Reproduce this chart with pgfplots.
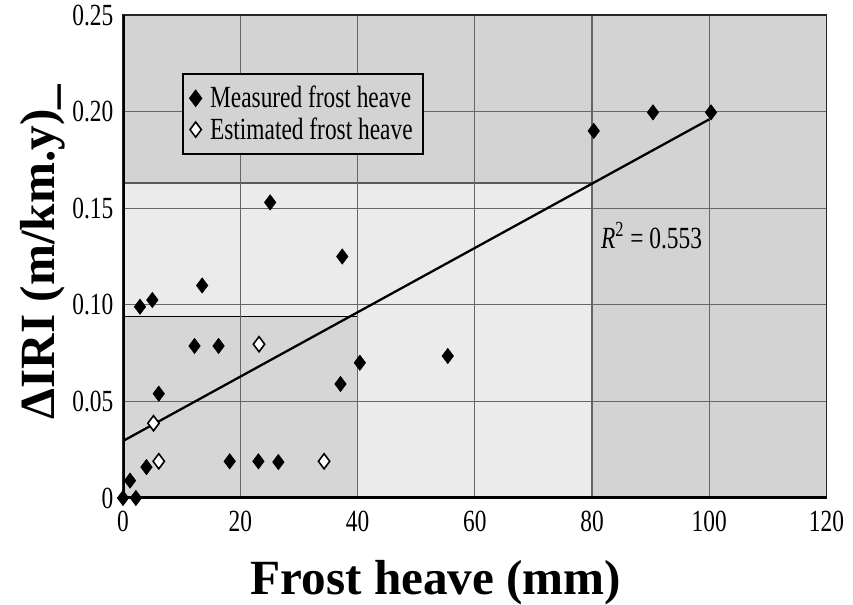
\documentclass[border=0pt]{standalone}
\usepackage{fontspec}
\setmainfont{Liberation Serif}
\newfontfamily\tickfont[FakeStretch=0.76]{Liberation Serif}
\usepackage{pgfplots}
\pgfplotsset{compat=1.18}

\definecolor{bgdark}{RGB}{211,211,211}
\definecolor{bglight}{RGB}{235,235,235}
\definecolor{bgbox}{RGB}{214,214,214}

\newcommand{\smallfont}{\tickfont\fontsize{17.5}{20}\selectfont}

\pgfplotstableread{
x y
0 0
2.2 0
1.2 0.009
4.0 0.016
6.1 0.054
2.9 0.099
5.0 0.1025
13.5 0.110
12.2 0.0787
16.3 0.0787
18.2 0.019
23.1 0.019
26.5 0.0186
25.1 0.153
37.1 0.059
37.4 0.125
40.4 0.070
55.4 0.0735
80.3 0.190
90.4 0.1996
100.3 0.1996
}\measured

\pgfplotstableread{
x y
5.2 0.0387
6.1 0.019
23.2 0.0796
34.3 0.019
}\estimated

\begin{document}
\begin{tikzpicture}
\begin{axis}[
    set layers,
    at={(2.46cm,2.12cm)}, anchor=south west,
    scale only axis, width=14.07cm, height=9.66cm,
    xmin=0, xmax=120, ymin=0, ymax=0.25,
    xtick={0,20,40,60,80,100,120},
    xticklabels={0,20,40,60,80,100,120},
    ytick={0,0.05,0.10,0.15,0.20,0.25},
    yticklabels={0,0.05,0.10,0.15,0.20,0.25},
    ticklabel style={font=\smallfont},
    xticklabel style={yshift=-4pt},
    yticklabel style={xshift=-2pt},
    major tick length=0pt,
    grid=major,
    major grid style={draw=black!60, line width=0.6pt},
    axis line style={draw=black!85, line width=0.9pt},
    axis background/.style={fill=bgdark},
    legend style={at={(0.084,0.880)}, anchor=north west,
        fill=bgdark, draw=black, line width=1pt, font=\smallfont,
        row sep=0pt, inner xsep=4pt, inner ysep=5pt},
    legend cell align=left,
]
\addplot[on layer=axis background, fill=bglight, draw=black!65, line width=0.7pt, forget plot]
    coordinates {(0,0) (80,0) (80,0.163) (0,0.163) (0,0)};
\addplot[on layer=axis background, fill=bgbox, draw=black, line width=0.8pt, forget plot]
    coordinates {(0,0) (40,0) (40,0.094) (0,0.094) (0,0)};
\addplot[black, line width=1.3pt, forget plot] coordinates {(0,0.0295) (100,0.1960)};
\addplot[only marks, mark=diamond*, mark size=4.3pt, mark options={fill=black, draw=black}]
    table[x=x, y=y] {\measured};
\addlegendentry{\hspace{3pt}Measured frost heave}
\addplot[only marks, mark=diamond*, mark size=4.3pt, mark options={fill=white, draw=black, line width=0.9pt}]
    table[x=x, y=y] {\estimated};
\addlegendentry{\hspace{3pt}Estimated frost heave}
\draw[black, line width=1.8pt] (rel axis cs:0,1) -- (rel axis cs:0,0) -- (rel axis cs:1,0);
\node[anchor=base west, inner sep=0pt, font=\smallfont] at (axis cs:81.5,0.1294)
    {\textit{R}\textsuperscript{2} = 0.553};
\end{axis}
\node[rotate=90, anchor=base, font=\fontsize{28}{32}\selectfont\bfseries] at (1.1cm,7.04cm)
    {ΔIRI (m/km.y)\_};
\node[anchor=base, font=\fontsize{28}{32}\selectfont\bfseries] at (8.72cm,0.2cm)
    {Frost heave (mm)};
\pgfresetboundingbox
\path[use as bounding box] (0,0) rectangle (17.06cm,12.08cm);
\end{tikzpicture}
\end{document}
